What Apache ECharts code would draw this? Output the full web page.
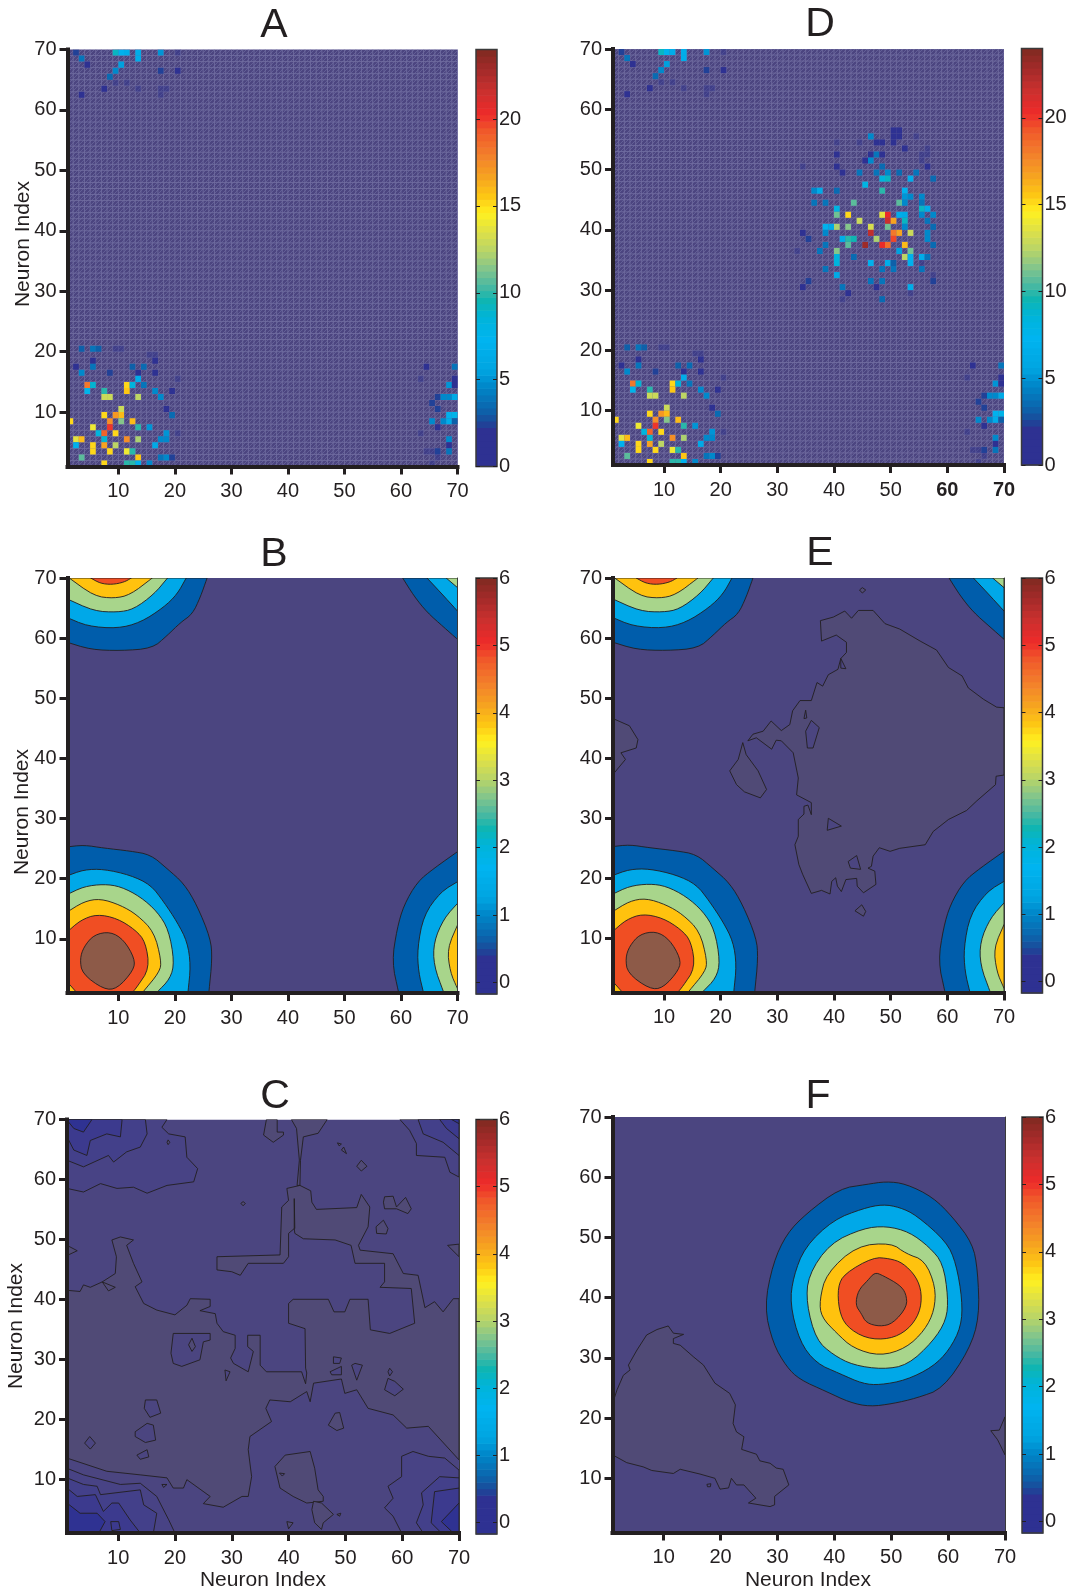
<!DOCTYPE html>
<html><head><meta charset="utf-8">
<style>html,body{margin:0;padding:0;background:#fff}#c{width:1072px;height:1590px}</style>
<script src="https://cdn.jsdelivr.net/npm/echarts@6/dist/echarts.min.js"></script>
</head><body><div id="c"></div>
<script>
// ---------- DATA ----------
const axisTicks=[10,20,30,40,50,60,70];
const spikeTicks=[0,5,10,15,20];
const rateTicks=[0,1,2,3,4,5,6];

// spike counts [neuron x, neuron y, count]
const cellsLowerLeft=[[3,20,3],[5,20,4],[6,20,3],[9,20,1],[10,20,1],[15,19,1],[16,19,1],[5,18,2],[16,18,2],[2,17,2],[5,17,4],[12,17,3],[14,17,3.5],[3,16,4.5],[8,16,2.5],[13,16,2],[16,16,2],[13,15,6.5],[20,15,1],[4,14,18],[5,14,8.7],[11,14,15],[12,14,8.5],[14,14,4],[4,13,7.5],[7,13,10],[11,13,15.5],[16,13,4.5],[19,13,2],[7,12,13],[8,12,13],[13,12,12.5],[17,12,4.5],[10,10,12.8],[18,10,2],[7,9,15],[9,9,17],[10,9,16],[19,9,3.5],[1,8,15],[8,8,17.5],[10,8,11.5],[12,8,15.8],[5,7,14],[8,7,20],[13,7,10],[15,7,5],[6,6,8.5],[7,6,19],[9,6,15],[18,6,5],[20,6,1.5],[2,5,13.8],[3,5,16],[7,5,8.8],[11,5,17.5],[13,5,12],[17,5,4.5],[18,5,4.5],[2,4,7],[5,4,15],[7,4,16.8],[9,4,12.5],[16,4,6],[5,3,15],[8,3,15],[11,3,14],[12,3,10],[3,2,10.5],[13,2,15.6],[17,2,4],[18,2,4.5],[19,2,2.5],[7,1,15],[11,1,10],[12,1,10],[13,1,7],[15,1,4.5]];
const cellsUpperLeft=[[2,69,2.5],[9,69,9],[10,69,7],[11,69,6.5],[13,69,6.5],[17,69,5],[20,69,1],[3,68,4],[13,68,6.5],[4,67,2],[10,67,5.5],[9,66,4.5],[17,66,2.5],[20,66,2],[8,65,3.5],[9,64,1.5],[11,64,1.5],[7,63,2],[13,63,1.8],[17,63,1],[18,63,1],[3,62,2],[17,62,1]];
const cellsLowerRight=[[64,17,2],[69,17,4],[63,15,1.5],[69,15,2],[68,14,5],[69,14,2],[66,12,2.5],[67,12,4.5],[68,12,4.5],[69,12,6],[65,11,2.5],[66,10,2.5],[68,9,7],[69,9,7.5],[65,8,4.5],[67,8,4.5],[68,8,6.5],[69,8,3],[66,7,2],[63,6,1],[68,5,4.5],[68,4,2],[64,3,1],[65,3,1],[66,3,2.5],[68,3,4],[66,2,1],[65,1,1]];
const cellsCentre=[[50,56,2],[51,56,2],[46,55,4.5],[50,55,2],[51,55,2],[54,55,1.5],[40,54,1],[44,54,1],[47,54,2],[48,54,2],[50,54,2],[52,53,2],[56,53,1],[40,52,2],[46,52,2],[47,52,4],[48,52,2],[55,52,1.5],[56,52,1.5],[45,51,2],[46,51,4.5],[55,51,1.5],[34,50,1],[40,50,2],[48,50,3.5],[56,50,2],[41,49,2],[44,49,4],[47,49,4],[49,49,4.5],[51,49,3.5],[54,49,4],[48,48,8.5],[49,48,9],[53,48,6.5],[57,48,3.5],[45,47,8],[36,46,4.5],[37,46,6],[40,46,3.5],[48,46,10],[52,46,7],[53,45,4.5],[52,45,5],[55,45,4.5],[36,44,4],[38,44,4],[43,44,10.5],[51,44,10.5],[52,44,4.5],[55,44,4],[40,43,8],[55,43,9],[56,43,6.5],[40,42,11],[42,42,15],[48,42,13.5],[49,42,20.5],[51,42,6.5],[52,42,6],[55,42,4.5],[57,42,4.5],[44,41,13],[49,41,21.7],[50,41,16.8],[52,41,9],[56,41,4],[38,40,7],[39,40,6],[40,40,12],[42,40,11.5],[46,40,13.3],[49,40,11],[52,40,4.5],[57,40,3.5],[34,39,2],[38,39,4.5],[46,39,22],[50,39,18],[51,39,16.5],[53,39,13],[56,39,4.5],[35,38,2.5],[41,38,6.5],[42,38,10],[43,38,9.5],[47,38,12],[50,38,19.5],[56,38,4.5],[38,37,4],[42,37,10.5],[45,37,23],[48,37,20.5],[49,37,18.5],[52,37,16],[57,37,3.5],[33,36,1],[37,36,4],[40,36,11.5],[51,36,5.5],[53,36,11],[40,35,8.5],[43,35,3.5],[52,35,12.5],[53,35,7],[55,35,6.5],[56,35,4],[40,34,8.5],[46,34,7],[49,34,6.5],[50,34,3],[53,34,7],[55,34,1.5],[38,33,4],[48,33,4],[50,33,4],[55,33,4],[40,32,6],[57,32,1.5],[35,31,2.5],[46,31,4],[48,31,4],[57,31,2.5],[34,30,2],[41,30,4],[47,30,2],[53,30,6.5],[42,29,2],[53,29,1.5],[41,28,1.5],[48,28,3.5]];

// contour outlines [neuron x, neuron y]
const lowerLeft1=[[1,25.3],[3.9,25.6],[7.4,25.1],[12.1,24.6],[15.7,24],[18.6,21.7],[21.6,19.2],[23.9,15.6],[26.3,10.1],[26.6,6.7],[26,1],[1,1]];
const lowerLeft2=[[1,20.5],[3.9,21.5],[7.4,21.6],[12.1,20.6],[15.7,19],[18,16.2],[20.4,12.8],[22.2,9.5],[22.8,5.6],[22.3,1],[1,1]];
const lowerLeft3=[[1,17.4],[3.9,18.7],[7.4,19.1],[10.4,18.7],[13.9,17],[16.9,14.5],[18.9,11.5],[19.9,6.2],[19.2,3.4],[16.7,1],[1,1]];
const lowerLeft4=[[1,14.5],[3.9,16.2],[6.8,16.7],[10.4,15.6],[13.3,14],[16.3,11.2],[17.6,6.4],[17.3,4.5],[14.2,1],[1,1]];
const lowerLeft5=[[1,11.2],[3.3,13.1],[6.2,14.1],[9.8,13.4],[13,11.5],[14.8,9.5],[15.5,5.1],[13.3,2],[12.4,1],[2.7,1],[1,2.8]];
const lowerLeft6=[[5.7,10.7],[8.6,11.2],[11,9.8],[12.9,6.7],[12.7,4.8],[9.8,1.7],[7.4,1.6],[3.6,4.2],[3.2,6.7],[3.9,8.7]];
const upperLeft1=[[1,59.3],[5.1,58.1],[10.4,57.9],[16,58.3],[18.6,60.4],[21,62.6],[23.1,64],[24.5,66.8],[25.7,70],[1,70]];
const upperLeft2=[[1,63.4],[4.5,62],[9.8,61.6],[13.9,62.6],[18,65.1],[20.4,67.3],[22,70],[1,70]];
const upperLeft3=[[1,66.5],[5.7,64.5],[9.8,64.3],[12.7,64.8],[16.3,67.3],[18.7,70],[1,70]];
const upperLeft4=[[1.3,70],[5.7,67],[9.2,66.6],[12.1,67.2],[16,70]];
const upperLeft5=[[5.1,70],[6.8,69.1],[8.9,68.9],[11,69.3],[12.3,70]];
const upperRight1=[[60.3,70],[62.3,67],[64.6,64.3],[67.6,61.8],[70,59.8],[70,70]];
const upperRight2=[[64.6,70],[67,67.6],[70,64.5],[70,70]];
const upperRight3=[[68,70],[70,68.4],[70,70]];
const lowerRight1=[[70,24.5],[65.8,21.7],[62.9,19.5],[60.5,15.6],[59.3,11.7],[58.4,6.2],[59.6,1],[70,1]];
const lowerRight2=[[70,19.5],[67,17.8],[64,13.9],[62.9,8.4],[63.1,4.5],[64,1],[70,1]];
const lowerRight3=[[70,15.9],[67.6,13.4],[65.8,9.5],[65.8,5.6],[67.6,1],[70,1]];
const lowerRight4=[[70,12.3],[68.2,8.4],[68.7,4.5],[70,1.7]];

const eGrey=[[37.6,62.9],[39.9,63.5],[41.9,64.5],[43.1,63.3],[44.3,64.6],[46.9,64.6],[49,62.4],[51.6,61.5],[55.2,59.5],[58.1,58],[60.2,55.1],[62.6,53.7],[63.7,51.7],[66.4,49.8],[68.7,48.5],[70,48.4],[70,37.2],[68.6,37],[68.5,35.6],[65.2,32.9],[63.4,31.3],[60.2,29.8],[57.5,27.8],[56.1,25.6],[51.6,25],[49.9,24.5],[48,25.1],[46.9,23.7],[46.6,22],[46,21.7],[47.2,21.2],[47.4,19],[45.2,17.6],[44.1,18.7],[44,20],[42.1,19.8],[41.3,17.8],[40.6,18.7],[40.3,20.1],[39.6,19.5],[39.3,17.4],[37.8,18],[36,17.5],[34.5,20.6],[33.8,22.3],[33.1,25.6],[33.7,27],[33.7,29.8],[34.7,30.7],[34.7,32],[35.4,32.2],[36,30.6],[36,32.6],[33.4,33.9],[33.7,36.7],[32.8,40.9],[30.7,42.9],[29.8,43],[29,41.5],[26.3,43.4],[24.8,42.9],[25.7,44],[27.5,44.5],[28.9,46.2],[30.7,44.6],[32.2,45.6],[32.7,47.9],[34,49.6],[36,49.6],[37,52.6],[38,52],[39,53.9],[40.7,54.8],[41.2,56.6],[42.2,57.6],[42.2,59.3],[40.4,60.5],[37.8,59.5]];
const eHoles=[[[35,48],[35.2,46.7],[34.7,46.6]],[[36,46.3],[37.4,45.1],[36.3,41.7],[35.3,41.7],[35,44.5]],[[39,30],[41.3,28.7],[38.8,28]],[[44,23.8],[44.7,21.5],[42.9,21.7],[42.5,22.8]],[[41.2,56.6],[42.1,54.9],[41.2,55]]];
const eIslands=[[[1,46.6],[3.9,45.4],[5.4,43.1],[5.1,41.7],[2.4,40.9],[3.2,39.8],[1,37.3]],[[23.9,42.6],[24.5,40.6],[26.6,37.9],[28.1,34.8],[27,33.4],[24.2,34.4],[22.8,35.6],[21.6,37.9],[23.1,39.8]],[[44.9,15.6],[45.6,14.5],[45.2,13.7],[43.7,14.6]],[[45,68.4],[45.6,68],[45,67.5],[44.5,68]]];

const fRing1=[[49.1,59.3],[52.6,58.9],[57.3,56.7],[60.8,53.4],[64.3,49],[65.2,44.6],[65.5,36.8],[63.7,31.3],[59.1,24.9],[54.4,23.3],[50.3,22.4],[46.2,21.9],[42.7,22.6],[38.6,24.4],[33.9,26.4],[31.6,28.5],[29.2,32.4],[27.7,38.5],[29.2,45.7],[31.6,50.6],[35.1,54],[40.9,58.1],[45.6,58.8]];
const fRing2=[[48.5,55.5],[51.5,55],[54.4,53.7],[59.7,49.3],[61.4,45.7],[62.5,39.6],[62.3,35.2],[60.2,31.3],[57.3,28.5],[52.6,26.3],[48,25.5],[45,25.7],[40.9,27.4],[36.8,29.1],[33.9,32.7],[32.2,39],[32.8,43.5],[34.8,48.4],[39.8,52.9],[45,54.8]];
const fRing3=[[49.1,51.9],[53.2,50.9],[56.7,48.4],[59.1,45.7],[60,40.1],[59.7,36.3],[57.3,32.7],[52.9,28.8],[48.5,28.1],[43.3,28.8],[39.8,30.5],[36.8,33],[35.1,39],[35.4,43.7],[39.2,49],[45,51.5]];
const fRing4=[[50,49.1],[52.6,47.3],[55.9,46.2],[57.8,41.8],[57.6,37.9],[55.9,34.6],[52.6,31.6],[48,30.3],[43.3,31.6],[40.4,34.1],[37.7,36.8],[37.4,39.6],[38.6,44],[43.9,48.6]];
const fRing5=[[49.7,46.5],[52,45.8],[54.4,43.5],[55.4,40.7],[55,37.4],[52.9,34.6],[49.7,33.1],[45.6,33.2],[42.1,35.2],[40.8,37.9],[40.6,41.8],[41.8,44],[46.8,46.7]];
const fRing6=[[47.1,44.2],[48.5,43.7],[51.5,42.1],[52.6,40.7],[52.8,38.5],[50.3,35.7],[48,35.2],[45.6,35.8],[44.7,37.4],[43.7,38.8],[44.2,41.2],[45.9,42.9]];
const fGrey=[[1,22.4],[1.8,24.7],[2.9,27.1],[4.1,28],[3.8,28.8],[5.3,31.3],[7,33.8],[8.8,34.7],[10.8,35.3],[11.7,34.1],[13.5,33.9],[11.7,33.2],[11.7,32.4],[12.9,32.1],[15.2,30.2],[17,28.8],[19,25.8],[21.6,24.1],[22.6,22.2],[22.2,19.1],[22.8,17.7],[24.1,16.9],[23.7,14.8],[26.3,14],[26.9,12.9],[28.7,12.5],[29.8,11.7],[31,11.5],[32,8.9],[29.5,7],[29.5,5.6],[28.7,5.3],[24.9,5.9],[26.2,6.7],[24.1,8.9],[22.8,8.9],[21.9,10],[21.4,8.4],[19.9,8.2],[19,10],[16.4,10.7],[12.9,11.5],[11.7,10.8],[7.9,11.3],[6.4,11.9],[3.5,12.6],[1,13.9]];
const fEdge=[[70,20.2],[69,18],[67.5,17.9],[68.7,16.4],[70,13.9]];
const fHole=[[17.6,9],[18.3,9.1],[18.2,8.6],[17.7,8.6]];

const cGrey=[[42,59],[43.9,58.1],[44.1,56.2],[44.9,55],[52,55.3],[52.8,57.5],[54.3,55.4],[54,52.1],[52.3,49],[52.6,48.2],[58.4,47.6],[60.2,44.3],[62.8,44],[64,38.6],[65.7,39.6],[67.2,37.9],[69,40.1],[70,40.1],[70,13.2],[64.6,18.8],[60.8,18.5],[58.4,20.7],[54,21.8],[52,24.9],[49.9,24.3],[49.3,26.7],[44.4,26],[43.8,22.9],[43.2,24.6],[40.3,22.9],[36.7,23.2],[36,21.8],[37,19.6],[33.2,17.1],[32.9,14.9],[33.5,10.4],[32.9,7.1],[31.8,7.1],[28.5,5.3],[25,5.9],[26.2,7.1],[22.1,9.9],[21.5,8.5],[19.7,8.5],[18.6,10.2],[13.9,10.7],[8,11.3],[1,13.5],[1,41.5],[3.3,41.3],[3.9,42.4],[5.1,42],[7.2,42.9],[9.5,44.3],[9.7,47.1],[8.9,49.9],[10.4,50.4],[12.7,49.9],[11.5,49],[12.7,46],[14.2,42.9],[13,42.1],[14.5,39.3],[16.8,38.2],[20,37.4],[22.1,39],[22.7,40.1],[26.2,40],[26.2,38.8],[24.4,38.1],[27.1,37.6],[27.4,36],[28.5,34.6],[30.6,34],[30.6,31.8],[29.8,30.2],[30.3,29.3],[32.9,27.9],[33.8,31.3],[32.8,32.1],[32.8,34],[35,34],[35,29],[36.1,27.9],[42.3,27.9],[43,25.9],[43.2,27.7],[43,28.5],[42.9,35.1],[40,36],[40,39.3],[40.8,40],[47,40],[48,37.9],[49.9,37.9],[50.8,40],[54,40],[54.4,34.9],[57.8,34.3],[62.2,36],[61.6,41.8],[56.1,42],[56.9,42.9],[56.9,46],[51.7,46],[51,49],[48.2,49.9],[42.6,50.1],[41.1,51],[41,51.8],[40,51],[40,47.1],[39.1,46],[32.9,46],[31.5,44],[30,44.6],[27.4,44.9],[27.4,47.1],[38.5,47.4],[38.8,55.4],[40,56.5],[39.7,58.5]];
const cGreyTop=[[[40.5,70],[41.4,68.5],[41.9,63.2],[41.5,59],[42,59],[42.1,63.2],[42.6,67.1],[45.2,67.7],[46.8,70]],[[36.1,70],[35.6,67.4],[37.3,66.2],[39.1,67.4],[39.1,67.9],[38,67.9],[38,70]],[[41,56.8],[41.1,51.8],[41,51.8]]];
const cLow1=[[[1,58.5],[3.9,57.9],[6.9,59.3],[9.8,58.5],[12.7,58.7],[15.1,57.7],[18.6,59],[23.3,59.6],[24,61.8],[22.1,63.7],[21.8,67.1],[18.9,67.6],[17.7,68.7],[18.6,70],[1,70]],[[1,11.8],[3.9,10.7],[10.4,9.1],[13.9,9.3],[16.8,7.1],[18.9,3.2],[20,1],[1,1]],[[70,11.5],[67.5,13.5],[64.6,13.8],[61.9,14.6],[59.9,13.8],[59.9,10.4],[57.5,8.8],[58.4,6.8],[56.9,5.2],[58.4,3.8],[59.9,1],[70,1]],[[59.6,70],[61.3,68.2],[62.5,66],[62.5,64],[67.5,63.7],[68.4,61.2],[70,60.4],[70,70]]];
const cLow2=[[[1,63.2],[3.9,62.1],[8.3,64],[9.2,62.9],[11.5,64.6],[13.9,65.4],[15.1,67.6],[14.8,70],[1,70]],[[1,10.2],[3.9,9.1],[6.3,8.8],[6.9,7.4],[13.9,8.2],[14.5,5.7],[16.8,4.3],[16.2,1],[1,1]],[[70,10.2],[66.6,10.4],[63.4,7.7],[63.7,5.7],[62.5,2.7],[63.7,1],[70,1]],[[62.8,70],[63.7,67.6],[67.2,66.2],[70,64],[70,70]]];
const cLow3=[[[1,67.1],[2.2,64.9],[4.5,64],[5.1,66.5],[8,67.6],[10.4,67.1],[10.7,70],[1,70]],[[1,8.5],[2.8,7.1],[6,7.4],[7.4,4.6],[8.9,6],[10.1,6],[12.1,3.2],[13.9,1],[1,1]],[[70,8.5],[65.7,7.9],[65.1,2.7],[66.9,1],[70,1]],[[66.6,70],[67.8,68.5],[70,66.8],[70,70]]];
const cLow4=[[[1,69.9],[2.2,68.5],[3.9,67.9],[5.4,70],[1,70]],[[1,6],[3.3,4.3],[6.3,4.3],[7.7,2.9],[6.6,1],[1,1]],[[70,6],[66.9,2.9],[69,1],[70,1]],[[68.7,70],[70,69.3],[70,70]]];
const cIslands=[[[56.9,57.1],[58.4,57.2],[59,55.4],[60.6,57],[61.6,55.1],[61,54.3],[59,55.1],[56.9,55.1],[56.7,56.2]],[[56.7,53.2],[57.5,51.8],[57.2,50.9],[55.5,51],[55.4,52.1]],[[52.8,63.2],[53.8,62.2],[52.8,61.4],[52,62.2]],[[49.7,65.4],[50.2,64.3],[49.3,64.9]],[[48.6,66.1],[49.3,65.9],[48.9,65.6]],[[68,49],[70,49.2],[70,47.1]],[[1,49],[2.8,48.1],[1,47.3]],[[7.2,42.9],[9.5,42],[8.3,41.4]],[[32,56.3],[32.4,56],[32,55.6],[31.6,56]],[[18.8,66.6],[19.1,66.2],[18.8,65.8],[18.6,66.2]],[[39.4,14],[43.8,14.6],[44.6,11.8],[45.2,8.2],[46.1,7.1],[46.1,6.3],[43.2,6],[40.8,7.1],[38.5,8.5],[37.6,12.1]],[[48.2,21],[49,21.1],[49.7,18.5],[48.5,18.1],[47,19]],[[44.4,6.3],[45.8,6],[47.9,4.1],[46.1,2.7],[45.8,1.6],[44.6,2.7],[44.1,4.9]],[[39.7,2.9],[40.8,2.7],[40,1.7]],[[48.5,4.1],[49.2,4.3],[49,3.8]]];
const cHoles=[[[19.7,34.3],[26.2,34.3],[26.2,33.2],[25,32.9],[24.4,29.9],[21.2,28.8],[19.7,29.3],[19.3,31]],[[47.9,30.4],[49.3,30.2],[49,29.3],[47.9,29.3]],[[47.3,27.9],[49.3,28.8],[49.3,27.4],[47.6,27.4]],[[51.7,29.3],[53,29],[52,26.5],[51.1,29]],[[57.8,28.5],[58.3,27.9],[57.8,27.2],[57.5,27.9]],[[57.5,26.8],[58.7,26.3],[60.2,25],[58.7,23.9],[56.9,24.9]],[[28.8,28.2],[29.7,27.9],[29,26.4]],[[14.8,23.2],[16.8,23.2],[17.5,21],[15.6,20.3],[14.6,21.8]],[[13,17.9],[15.1,19.3],[16.2,19],[16.6,16.5],[14.8,16.1],[13,17.1]],[[13.3,14],[15.1,14.9],[15.4,13.7],[13.9,13.3]],[[4.1,16],[5,17.1],[6,16],[5.1,15]],[[17.7,9.1],[18.6,9.1],[18,8.6]]];
const cInnerGrey=[[[23,33.5],[23.6,32.1],[23,31.3],[22.4,32.4]]];
const cInnerLow=[[[38.4,11],[39.3,10.9],[38.9,10.5]]];
const cCornerSpot=[[[8.7,2.9],[10.1,2.9],[10.4,1.6],[8.9,1.4]]];

// ---------- STYLE ----------
const INK='#231f20', FONT='"Liberation Sans",Arial,sans-serif';
const band={bg:'#4b4580',grey:'#504a76',l1:'#484385',l2:'#43408a',l3:'#3c3a8e',l4:'#2f3292',
 b1:'#005dab',b2:'#00a8e8',b3:'#a8d58b',b4:'#ffc20e',b5:'#f04e23',b6:'#8d5a48'};
const ramp=[[0,'#2e3192'],[.09,'#2e3192'],[.108,'#1a4a9a'],[.14,'#0b66ad'],[.19,'#0085c8'],[.23,'#00a4e0'],[.305,'#00b4f0'],[.36,'#00b4d8'],[.40,'#10b5b0'],[.436,'#4fb9a0'],[.477,'#86c68a'],[.518,'#b8d468'],[.56,'#dbe04a'],[.608,'#fff020'],[.65,'#fdc514'],[.70,'#f5a021'],[.748,'#f37f2b'],[.805,'#f0582a'],[.846,'#ee2a2a'],[.903,'#c8302e'],[.95,'#a52a2a'],[1,'#7f2a20']];
function hex(c){return [1,3,5].map(i=>parseInt(c.substr(i,2),16));}
function jet(f){
  f=Math.min(.9999,Math.max(0,f)); f=(Math.floor(f*64)+.5)/64;
  for(let i=1;i<ramp.length;i++) if(f<=ramp[i][0]){
    const a=ramp[i-1],b=ramp[i],t=(f-a[0])/(b[0]-a[0]),A=hex(a[1]),B=hex(b[1]);
    return 'rgb('+A.map((v,k)=>Math.round(v+(B[k]-v)*t)).join(',')+')';
  }
  return ramp[ramp.length-1][1];
}
function hatch(){
  const c=document.createElement('canvas');c.width=c.height=4;const g=c.getContext('2d');
  g.fillStyle='#4c4580';g.fillRect(0,0,4,4);g.fillStyle='#625f96';
  for(let i=0;i<4;i++)g.fillRect(i,3-i,1,1);
  return c;
}
const hatchImg=hatch();
// round off the drawn outline of the colour rings, leaving points on the plot edge where they are
function rounded(pts,passes){
  const onEdge=p=>p[0]<=1||p[0]>=70||p[1]<=1||p[1]>=70;
  let cur=pts;
  for(let k=0;k<passes;k++){
    const out=[];
    cur.forEach((p,i)=>{
      const q=cur[(i+1)%cur.length];
      if(onEdge(p)&&(p[0]===q[0]||p[1]===q[1]||onEdge(q))){out.push(p);if(!onEdge(q))out.push([p[0]*.75+q[0]*.25,p[1]*.75+q[1]*.25]);return;}
      if(onEdge(p))out.push(p);
      else out.push([p[0]*.75+q[0]*.25,p[1]*.75+q[1]*.25]);
      if(onEdge(q))out.push([p[0]*.25+q[0]*.75,p[1]*.25+q[1]*.75]);
      else out.push([p[0]*.25+q[0]*.75,p[1]*.25+q[1]*.75]);
    });
    cur=out;
  }
  return cur;
}

const layersCorners=[[lowerLeft1,'b1'],[lowerLeft2,'b2'],[lowerLeft3,'b3'],[lowerLeft4,'b4'],[lowerLeft5,'b5'],[lowerLeft6,'b6'],
 [upperLeft1,'b1'],[upperLeft2,'b2'],[upperLeft3,'b3'],[upperLeft4,'b4'],[upperLeft5,'b5'],
 [upperRight1,'b1'],[upperRight2,'b2'],[upperRight3,'b3'],
 [lowerRight1,'b1'],[lowerRight2,'b2'],[lowerRight3,'b3'],[lowerRight4,'b4']];
const tag=(list,l)=>list.map(p=>[p,l]);
const layersE=[[eGrey,'grey'],...tag(eHoles,'bg'),...tag(eIslands,'grey'),...layersCorners];
const layersF=[[fGrey,'grey'],[fEdge,'grey'],[fHole,'bg'],[fRing1,'b1'],[fRing2,'b2'],[fRing3,'b3'],[fRing4,'b4'],[fRing5,'b5'],[fRing6,'b6']];
const layersC=[[cGrey,'grey'],...tag(cGreyTop,'grey'),...tag(cHoles,'bg'),...tag(cInnerGrey,'grey'),...tag(cLow1,'l1'),...tag(cLow2,'l2'),...tag(cLow3,'l3'),...tag(cLow4,'l4'),...tag(cIslands,'grey'),...tag(cInnerLow,'bg'),...tag(cCornerSpot,'l3')];
const cellsBase=[...cellsLowerLeft,...cellsUpperLeft,...cellsLowerRight];

const panels=[
 {n:'A',p:[67.5,49.5,457.5,466.5],b:[476,49.5,497,466.5],cells:cellsBase,yName:[23,244]},
 {n:'D',p:[613,49,1004,465],b:[1021.5,48.5,1042.5,465],cells:[...cellsBase,...cellsCentre],bold:true},
 {n:'B',p:[67.5,578,457.5,993],b:[476,578,497,994],layers:layersCorners,yName:[22,812]},
 {n:'E',p:[613,578,1004,992.5],b:[1021.5,578,1042.5,993],layers:layersE},
 {n:'C',p:[67,1119.5,459,1533],b:[476,1119.5,497,1534],layers:layersC,yName:[16,1326],xName:[263,1580]},
 {n:'F',p:[612.5,1117,1005,1532.5],b:[1022,1117,1043,1533],layers:layersF,xName:[808,1580]}
];
const titlePos={A:[274,26],D:[820,25],B:[274,555],E:[820,554],C:[275,1097],F:[818,1097]};

const grid=[],xAxis=[],yAxis=[],series=[],graphic=[];
const label=(extra)=>Object.assign({color:INK,fontFamily:FONT,fontSize:20},extra);

function addPanel(P){
  const gi=grid.length;
  grid.push({left:P.p[0],top:P.p[1],width:P.p[2]-P.p[0],height:P.p[3]-P.p[1],containLabel:false});
  const line={show:true,onZero:false,lineStyle:{color:INK,width:4,cap:'square'}};
  const tick={show:true,customValues:axisTicks,length:8,lineStyle:{color:INK,width:3}};
  xAxis.push({gridIndex:gi,type:'value',min:1,max:70,z:10,splitLine:{show:false},axisLine:line,axisTick:tick,
    axisLabel:label({customValues:axisTicks,margin:15,
      formatter:v=>(P.bold&&v>=60)?'{b|'+v+'}':String(v),rich:{b:{fontWeight:'bold',fontSize:20,color:INK,fontFamily:FONT}}})});
  const yi=yAxis.length;
  yAxis.push({gridIndex:gi,type:'value',min:1,max:70,z:10,splitLine:{show:false},axisLine:line,axisTick:tick,
    axisLabel:label({customValues:axisTicks,margin:11,padding:[2,0,0,0]})});
  if(P.layers){
    yAxis.push({gridIndex:gi,type:'value',position:'right',min:1,max:70,z:10,splitLine:{show:false},
      axisLine:{show:true,onZero:false,lineStyle:{color:'#3a3a3a',width:1}},axisTick:{show:false},axisLabel:{show:false}});
    series.push({type:'custom',xAxisIndex:gi,yAxisIndex:yi,clip:true,silent:true,animation:false,
      data:[[1,1]].concat(P.layers.map(l=>l[0][0])),encode:{x:0,y:1},
      renderItem:(params,api)=>{
        if(params.dataIndex===0){const c=params.coordSys;
          return {type:'rect',shape:{x:c.x,y:c.y,width:c.width,height:c.height},style:{fill:band.bg}};}
        const l=P.layers[params.dataIndex-1];
        const pts=l[1].charAt(0)==='b'&&l[1]!=='bg'?rounded(l[0],2):l[0];
        return {type:'polygon',shape:{points:pts.map(q=>api.coord(q))},style:{fill:band[l[1]],stroke:INK,lineWidth:.9,lineJoin:'round'}};
      }});
  }else{
    series.push({type:'custom',xAxisIndex:gi,yAxisIndex:yi,clip:true,silent:true,animation:false,
      data:[[1,1]],encode:{x:0,y:1},
      renderItem:(params,api)=>{
        const c=params.coordSys,kids=[{type:'rect',shape:{x:c.x,y:c.y,width:c.width,height:c.height},
          style:{fill:{image:hatchImg,repeat:'repeat'}}}];
        for(let i=1;i<=70;i++){
          const x=api.coord([i,1])[0],y=api.coord([1,i])[1];
          kids.push({type:'line',shape:{x1:x,y1:c.y,x2:x,y2:c.y+c.height},style:{stroke:'#6f6c9f',lineWidth:.9}});
          kids.push({type:'line',shape:{x1:c.x,y1:y,x2:c.x+c.width,y2:y},style:{stroke:'#6f6c9f',lineWidth:.9}});
        }
        return {type:'group',children:kids};
      }});
    series.push({type:'custom',xAxisIndex:gi,yAxisIndex:yi,clip:true,silent:true,animation:false,
      data:P.cells,encode:{x:0,y:1},
      renderItem:(params,api)=>{
        const x=api.value(0),y=api.value(1),v=api.value(2),a=api.coord([x,y]),b=api.coord([x+1,y+1]);
        return {type:'rect',shape:{x:a[0],y:b[1],width:b[0]-a[0],height:a[1]-b[1]},
          style:{fill:jet(v/24),opacity:v<2?.4:1}};
      }});
  }
  // colour bar
  const lo=P.layers?-.17:0,hi=P.layers?6:24,vals=P.layers?rateTicks:spikeTicks,bi=grid.length;
  grid.push({left:P.b[0],top:P.b[1],width:P.b[2]-P.b[0],height:P.b[3]-P.b[1]});
  xAxis.push({gridIndex:bi,type:'value',min:0,max:1,show:false});
  const bl=yAxis.length;
  const barTick={show:true,inside:true,length:4,customValues:vals,lineStyle:{color:INK,width:1}};
  yAxis.push({gridIndex:bi,type:'value',min:lo,max:hi,position:'left',z:10,splitLine:{show:false},axisLine:{show:false},axisTick:barTick,axisLabel:{show:false}});
  yAxis.push({gridIndex:bi,type:'value',min:lo,max:hi,position:'right',z:10,splitLine:{show:false},axisLine:{show:false},axisTick:barTick,
    axisLabel:label({customValues:vals,margin:2,padding:[3,0,0,0]})});
  const bandsN=64,bars=[];for(let i=0;i<=bandsN;i++)bars.push([0,lo+(hi-lo)*Math.min(i,bandsN-1)/bandsN]);
  series.push({type:'custom',xAxisIndex:bi,yAxisIndex:bl,silent:true,animation:false,data:bars,encode:{x:0,y:1},
    renderItem:(params,api)=>{
      const c=params.coordSys,i=params.dataIndex;
      if(i===bandsN)return {type:'rect',shape:{x:c.x,y:c.y,width:c.width,height:c.height},style:{fill:'none',stroke:'#3a3a3a',lineWidth:1.5}};
      const v0=api.value(1),v1=lo+(hi-lo)*(i+1)/bandsN,a=api.coord([0,v0]),b=api.coord([1,v1]);
      return {type:'rect',shape:{x:a[0],y:b[1],width:b[0]-a[0],height:a[1]-b[1]+.6},style:{fill:jet((i+.5)/bandsN)}};
    }});
  // text
  const t=titlePos[P.n];
  graphic.push({type:'text',x:t[0],y:t[1],style:{text:P.n,font:'41px '+FONT,fill:INK,textAlign:'center',textVerticalAlign:'middle',align:'center',verticalAlign:'middle'}});
  if(P.yName)graphic.push({type:'text',x:P.yName[0],y:P.yName[1],rotation:Math.PI/2,style:{text:'Neuron Index',font:'21px '+FONT,fill:INK,textAlign:'center',textVerticalAlign:'middle',align:'center',verticalAlign:'middle'}});
  if(P.xName)graphic.push({type:'text',x:P.xName[0],y:P.xName[1],style:{text:'Neuron Index',font:'21px '+FONT,fill:INK,textAlign:'center',textVerticalAlign:'middle',align:'center',verticalAlign:'middle'}});
}
panels.forEach(addPanel);

const chart=echarts.init(document.getElementById('c'),null,{renderer:'canvas',width:1072,height:1590});
chart.setOption({animation:false,backgroundColor:'#fff',grid,xAxis,yAxis,series,graphic});
</script></body></html>
